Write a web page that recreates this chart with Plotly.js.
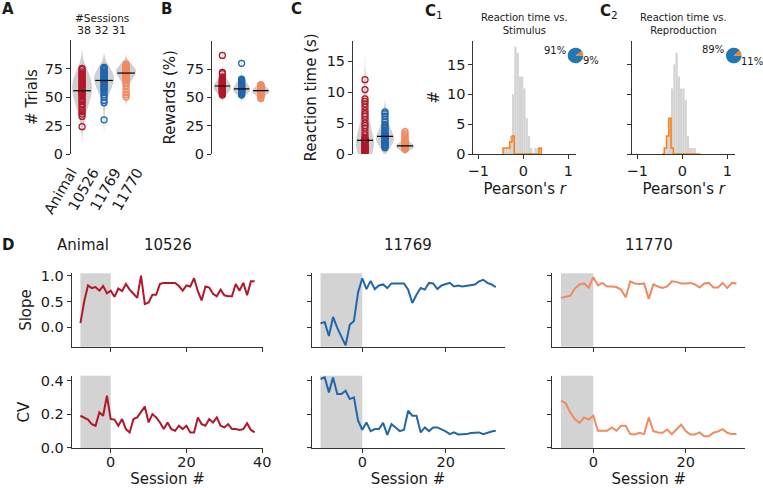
<!DOCTYPE html>
<html><head><meta charset="utf-8">
<script src="https://cdn.plot.ly/plotly-3.0.1.min.js"></script>
<style>html,body{margin:0;padding:0;background:#fff;}#chart{width:763px;height:488px;}</style>
</head><body><div id="chart"></div>
<script>
// ---------------- DATA ----------------
const animals = ['10526', '11769', '11770'];
const animalColors = ['#b2182b', '#2166ac', '#ef8a62'];
const nSessions = [38, 32, 31];

// Panel A: # trials per session
const trials10526 = [24,33,35,37,39,41,43,44,46,47,48,50,51,52,53,54,54,55,55,56,57,58,59,60,61,62,63,64,65,66,67,68,69,70,71,72,74,75];
const trials11769 = [30,45,47,50,52,54,56,57,58,59,60,61,62,63,64,64,65,65,66,67,68,68,69,70,70,71,72,73,74,75,76,76];
const trials11770 = [50,52,54,57,60,62,64,65,66,67,68,68,69,70,70,71,71,72,72,73,73,74,74,75,75,76,76,77,77,78,79];

// Panel B: rewards (%)
const rewards10526 = [52,53,54,54,55,55,56,56,57,57,58,58,59,59,60,60,60,61,61,62,62,63,63,64,64,65,65,66,67,68,71,72,87,53,58,61,59,57];
const rewards11769 = [52,53,53,54,54,55,55,55,56,56,56,56,57,57,57,57,58,58,59,59,60,60,61,61,62,62,63,64,65,65,66,80];
const rewards11770 = [49,50,51,52,52,53,53,54,54,54,55,55,55,55,56,56,56,56,57,57,57,58,58,58,59,59,60,60,61,61,53];

// Panel C: reaction time (s)
const rt10526 = [12.0,10.4,8.9,8.5,8.1,7.6,7.0,6.5,6.1,5.6,5.0,4.6,4.2,3.6,3.1,2.7,2.5,2.3,2.2,2.2,2.1,2.0,1.8,1.6,1.5,1.3,1.2,1.1,1.0,0.9,0.8,0.7,0.6,0.5,0.5,0.4,0.3,0.3];
const rt11769 = [6.8,6.5,6.1,5.6,5.2,4.8,4.5,4.2,3.9,3.7,3.5,3.3,3.2,3.0,2.9,2.9,2.8,2.7,2.6,2.5,2.4,2.3,2.2,2.1,2.0,1.9,1.8,1.6,1.5,1.3,1.2,1.0];
const rt11770 = [3.6,3.3,3.0,2.7,2.4,2.2,2.0,1.8,1.7,1.6,1.5,1.5,1.4,1.4,1.3,1.3,1.3,1.2,1.2,1.2,1.1,1.1,1.1,1.0,1.0,1.0,0.9,0.9,0.9,0.8,0.8];

// Panels C1 / C2: histogram of Pearson's r (bin left edges, counts)
const rBinLeft = [-0.45,-0.40,-0.35,-0.30,-0.25,-0.20,-0.15,-0.10,-0.05,0.00,0.05,0.10,0.15,0.20,0.25,0.30,0.35];
const rBinWidth = 0.05;
const c1All = [1,1,1,3,10,18,17,13,13,11,6,3,1,0,1,1,1];
const c1Sig = [1,1,1,2,3,0,0,0,0,0,0,0,0,0,0,0,1];
const c2All = [0,1,3,6,11,15,17,13,11,11,9,3,1,1,1,0,0];
const c2Sig = [0,1,3,6,1,0,0,0,0,0,0,0,0,0,0,0,0];
const c1Pie = [91, 9];
const c2Pie = [89, 11];
const c1Title = 'Reaction time vs.<br>Stimulus';
const c2Title = 'Reaction time vs.<br>Reproduction';

// Panel D: per-session slope and CV
const sessions10526 = [-8,-7,-6,-5,-4,-3,-2,-1,0,1,2,3,4,5,6,7,8,9,10,11,12,13,14,15,16,17,18,19,20,21,22,23,24,25,26,27,28,29,30,31,32,33,34,35,36,37,38];
const slope10526 = [0.08,0.50,0.81,0.76,0.78,0.71,0.80,0.66,0.71,0.59,0.75,0.70,0.84,0.73,0.65,0.57,1.00,0.45,0.48,0.63,0.63,0.84,0.86,0.86,0.86,0.86,0.80,0.71,0.81,0.79,0.95,0.70,0.52,0.79,0.77,0.65,0.60,0.73,0.62,0.60,0.60,0.84,0.71,0.86,0.62,0.89,0.89];
const cv10526 = [0.19,0.18,0.167,0.14,0.13,0.21,0.19,0.31,0.17,0.167,0.13,0.17,0.11,0.09,0.17,0.18,0.21,0.245,0.15,0.20,0.18,0.15,0.11,0.15,0.11,0.10,0.13,0.11,0.13,0.09,0.09,0.18,0.14,0.13,0.17,0.15,0.18,0.13,0.12,0.14,0.11,0.11,0.105,0.11,0.145,0.105,0.09];
const sessions11769 = [-10,-9,-8,-7,-6,-5,-4,-3,-2,-1,0,1,2,3,4,5,6,7,8,9,10,11,12,13,14,15,16,17,18,19,20,21,22,23,24,25,26,27,28,29,30,31,32];
const slope11769 = [0.08,0.10,-0.17,0.20,-0.01,-0.17,-0.35,0.05,0.12,0.68,0.95,0.74,0.90,0.74,0.81,0.83,0.76,0.85,0.85,0.85,0.85,0.73,0.47,0.63,0.76,0.73,0.86,0.85,0.74,0.81,0.83,0.86,0.79,0.81,0.79,0.80,0.81,0.83,0.89,0.92,0.86,0.83,0.78];
const cv11769 = [0.41,0.42,0.33,0.42,0.32,0.32,0.34,0.29,0.30,0.16,0.106,0.15,0.098,0.11,0.11,0.147,0.075,0.14,0.12,0.098,0.106,0.22,0.19,0.19,0.09,0.12,0.098,0.12,0.12,0.11,0.096,0.08,0.09,0.078,0.078,0.08,0.086,0.09,0.09,0.08,0.09,0.096,0.10];
const sessions11770 = [-7,-6,-5,-4,-3,-2,-1,0,1,2,3,4,5,6,7,8,9,10,11,12,13,14,15,16,17,18,19,20,21,22,23,24,25,26,27,28,29,30,31];
const slope11770 = [0.57,0.59,0.61,0.75,0.83,0.85,0.77,0.97,0.81,0.86,0.79,0.79,0.78,0.73,0.58,0.89,0.85,0.84,0.85,0.55,0.83,0.79,0.76,0.79,0.89,0.88,0.85,0.85,0.86,0.83,0.77,0.85,0.86,0.77,0.77,0.86,0.76,0.86,0.85];
const cv11770 = [0.28,0.265,0.21,0.17,0.147,0.18,0.167,0.19,0.10,0.10,0.10,0.12,0.10,0.13,0.13,0.08,0.078,0.088,0.08,0.18,0.098,0.09,0.088,0.108,0.08,0.108,0.137,0.098,0.078,0.078,0.09,0.067,0.067,0.088,0.096,0.11,0.088,0.08,0.08];

// ---------------- LAYOUT HELPERS ----------------
const W = 763, H = 488;
const fx = p => p / W, fy = p => 1 - p / H;
const dX = (a, b) => [fx(a), fx(b)];
const dY = (top, bot) => [fy(bot), fy(top)];
const FONT = 'DejaVu Sans, Liberation Sans, sans-serif';
const INK = '#1a1a1a';
const TICK = 14.5, TITLE = 15;
const AX = {showgrid:false, zeroline:false, showline:true, linecolor:'#333', linewidth:1,
  ticks:'outside', ticklen:4, tickwidth:1, tickcolor:'#333', tickfont:{size:TICK, color:INK, family:FONT},
  automargin:false, fixedrange:true};
const ax = o => Object.assign({}, AX, o);
const ttl = (text, standoff) => ({text, standoff, font:{size:TITLE, color:INK, family:FONT}});
const median = a => { const s = [...a].sort((p, q) => p - q); const n = s.length; return n % 2 ? s[(n-1)/2] : (s[n/2-1] + s[n/2]) / 2; };
const padRange = a => { const lo = Math.min(...a), hi = Math.max(...a), m = 0.05 * (hi - lo); return [lo - m, hi + m]; };

const traces = [];
const annotations = [];
const shapes = [];
const ann = (text, px, py, xa, size, extra) => annotations.push(Object.assign({text, x:fx(px), y:fy(py), xref:'paper', yref:'paper',
  showarrow:false, xanchor:xa, yanchor:'middle', borderpad:0, font:{size, color:INK, family:FONT}}, extra || {}));

// ---------------- PANELS A, B, C ----------------
function violinPanel(xa, ya, sets, bw) {
  sets.forEach((vals, k) => {
    const pos = k + 1;
    traces.push({type:'violin', x0:pos, y:vals, xaxis:xa, yaxis:ya, points:false, width:0.9, scalemode:'width',
      spanmode:'soft', bandwidth:bw[k], fillcolor:'#d0d0d0', line:{width:0, color:'rgba(0,0,0,0)'}, hoverinfo:'skip', showlegend:false,
      box:{visible:false}, meanline:{visible:false}});
  });
  sets.forEach((vals, k) => {
    const pos = k + 1;
    traces.push({type:'scatter', mode:'markers', x:vals.map(() => pos), y:vals, xaxis:xa, yaxis:ya,
      marker:{symbol:'circle-open', size:6, color:animalColors[k], line:{width:1.3}}, hoverinfo:'skip', showlegend:false});
    const m = median(vals);
    traces.push({type:'scatter', mode:'lines', x:[pos - 0.4, pos + 0.4], y:[m, m], xaxis:xa, yaxis:ya,
      line:{color:'#000', width:1.2}, hoverinfo:'skip', showlegend:false});
  });
}
violinPanel('x', 'y', [trials10526, trials11769, trials11770], [8, 6, 4]);
violinPanel('x2', 'y2', [rewards10526, rewards11769, rewards11770], [3, 3, 2]);
violinPanel('x3', 'y3', [rt10526, rt11769, rt11770], [2.0, 1.0, 0.5]);

const catTicks = ['Animal'].concat(animals);

// ---------------- PANELS C1, C2 ----------------
function histPanel(xa, ya, all, sig) {
  traces.push({type:'bar', x:rBinLeft, y:all, width:rBinWidth, offset:0, xaxis:xa, yaxis:ya,
    marker:{color:'#d3d3d3', line:{width:0}}, hoverinfo:'skip', showlegend:false});
  const sx = [rBinLeft[0]], sy = [0];
  rBinLeft.forEach((e, i) => { sx.push(e); sy.push(sig[i]); });
  const last = rBinLeft[rBinLeft.length - 1] + rBinWidth;
  sx.push(last); sy.push(sig[sig.length - 1]);
  sx.push(last); sy.push(0);
  traces.push({type:'scatter', mode:'lines', x:sx, y:sy, xaxis:xa, yaxis:ya, line:{shape:'hv', color:'#ff7f0e', width:1.5},
    hoverinfo:'skip', showlegend:false});
}
histPanel('x4', 'y4', c1All, c1Sig);
histPanel('x5', 'y5', c2All, c2Sig);

function pie(vals, cx, cy, r) {
  traces.push({type:'pie', values:vals, labels:['n.s.', 'sig.'], sort:false, direction:'counterclockwise', rotation:90,
    marker:{colors:['#1f77b4', '#ff7f0e'], line:{width:0}}, textinfo:'none', hoverinfo:'skip', showlegend:false,
    domain:{x:dX(cx - r, cx + r), y:dY(cy - r, cy + r)}});
  const tot = vals.reduce((a, b) => a + b, 0);
  let start = 0;
  vals.forEach(v => {
    const frac = v / tot, mid = (start + frac / 2) * 2 * Math.PI;
    start += frac;
    const c = Math.cos(mid), s = Math.sin(mid);
    ann(Math.round(frac * 100) + '%', cx + (c < 0 ? 1.15 : 0.85) * r * c, cy - 2.3 * r * s, c < 0 ? 'right' : 'left', 10);
  });
}
pie(c1Pie, 575.5, 55.5, 7.8);
pie(c2Pie, 733.8, 55.5, 7.8);

// ---------------- PANEL D ----------------
const dCols = [
  {s:sessions10526, slope:slope10526, cv:cv10526, dom:[71.7, 263.4]},
  {s:sessions11769, slope:slope11769, cv:cv11769, dom:[311.8, 504.5]},
  {s:sessions11770, slope:slope11770, cv:cv11770, dom:[552.2, 745.3]}
];
const layoutAxes = {};
dCols.forEach((c, k) => {
  const xr = 'x' + (6 + k), yr = 'y' + (6 + k), xc = 'x' + (9 + k), yc = 'y' + (9 + k);
  traces.push({type:'scatter', mode:'lines', x:c.s, y:c.slope, xaxis:xr, yaxis:yr, line:{color:animalColors[k], width:2}, hoverinfo:'skip', showlegend:false});
  traces.push({type:'scatter', mode:'lines', x:c.s, y:c.cv, xaxis:xc, yaxis:yc, line:{color:animalColors[k], width:2}, hoverinfo:'skip', showlegend:false});
  [[xr, yr], [xc, yc]].forEach(([xa, ya]) => shapes.push({type:'rect', layer:'below', xref:xa, yref:ya + ' domain',
    x0:c.s[0], x1:0, y0:0, y1:1, fillcolor:'#d3d3d3', line:{width:0}}));
  const rng = padRange(c.s);
  layoutAxes['xaxis' + (6 + k)] = ax({domain:dX(c.dom[0], c.dom[1]), range:rng, anchor:yr, tick0:0, dtick:20, showticklabels:false});
  const y1 = ax({domain:dY(273.3, 346.7), range:[-0.376, 1.046], anchor:xr, tickvals:[0, 0.5, 1], tickformat:'.1f', showticklabels:k === 0});
  if (k === 0) y1.title = ttl('Slope', 5);
  layoutAxes['yaxis' + (6 + k)] = y1;
  layoutAxes['xaxis' + (9 + k)] = ax({domain:dX(c.dom[0], c.dom[1]), range:rng, anchor:yc, tick0:0, dtick:20,
    ticklabelstandoff:-4, title:ttl('Session #', 5)});
  const y2 = ax({domain:dY(375.7, 448.3), range:[-0.005, 0.43], anchor:xc, tickvals:[0, 0.2, 0.4], tickformat:'.1f', showticklabels:k === 0});
  if (k === 0) y2.title = ttl('CV', 7);
  layoutAxes['yaxis' + (9 + k)] = y2;
  ann(animals[k], (c.dom[0] + c.dom[1]) / 2, 245, 'center', 15);
});

// ---------------- TEXT ----------------
ann('<b>A</b>', 1, 9, 'left', 15);
ann('<b>B</b>', 160, 9, 'left', 15);
ann('<b>C</b>', 290, 9, 'left', 15);
ann('<b>C</b><sub>1</sub>', 424, 11, 'left', 15);
ann('<b>C</b><sub>2</sub>', 599, 11, 'left', 15);
ann('<b>D</b>', 1, 244.5, 'left', 15);
ann('Animal', 83, 245, 'center', 15);
ann('#Sessions', 102, 18, 'center', 10.5);
ann(nSessions.join(' '), 101, 30, 'center', 11);
ann(c1Title, 524.6, 24, 'center', 10);
ann(c2Title, 683.7, 24, 'center', 10);

const layout = Object.assign({
  width:W, height:H, margin:{l:0, r:0, t:0, b:0}, paper_bgcolor:'#fff', plot_bgcolor:'rgba(0,0,0,0)',
  font:{family:FONT, size:12, color:INK}, showlegend:false, violinmode:'overlay',
  xaxis: ax({domain:dX(55, 145), range:[-0.23, 3.86], anchor:'y', tickvals:catTicks.map((_, i) => i), ticktext:catTicks,
    tickangle:-60, showline:false, ticks:'', ticklabelshift:11, ticklabelstandoff:6}),
  yaxis: ax({domain:dY(40, 154), range:[0, 100], anchor:'free', position:fx(70), tickvals:[0, 25, 50, 75], title:ttl('# Trials', 2)}),
  xaxis2: ax({domain:dX(212, 276), range:[0.46, 3.79], anchor:'y2', showline:false, ticks:'', showticklabels:false}),
  yaxis2: ax({domain:dY(40.7, 154), range:[0, 100], anchor:'x2', tickvals:[0, 25, 50, 75], title:ttl('Rewards (%)', 6)}),
  xaxis3: ax({domain:dX(353, 420), range:[0.4, 3.75], anchor:'y3', showline:false, ticks:'', showticklabels:false}),
  yaxis3: ax({domain:dY(40.7, 154), range:[0, 18.3], anchor:'x3', tickvals:[0, 5, 10, 15], title:ttl('Reaction time (s)', 6)}),
  xaxis4: ax({domain:dX(473.3, 576), range:[-1.11, 1.17], anchor:'y4', tickvals:[-1, 0, 1], title:ttl("Pearson's <i>r</i>", 5)}),
  yaxis4: ax({domain:dY(40.7, 154), range:[0, 19], anchor:'x4', tickvals:[0, 5, 10, 15], title:ttl('#', 3)}),
  xaxis5: ax({domain:dX(632.3, 735), range:[-1.11, 1.17], anchor:'y5', tickvals:[-1, 0, 1], title:ttl("Pearson's <i>r</i>", 5)}),
  yaxis5: ax({domain:dY(40.7, 154), range:[0, 19], anchor:'x5', tickvals:[0, 5, 10, 15], showticklabels:false}),
  annotations, shapes
}, layoutAxes);

Plotly.newPlot('chart', traces, layout, {staticPlot:true, displayModeBar:false});
</script></body></html>
